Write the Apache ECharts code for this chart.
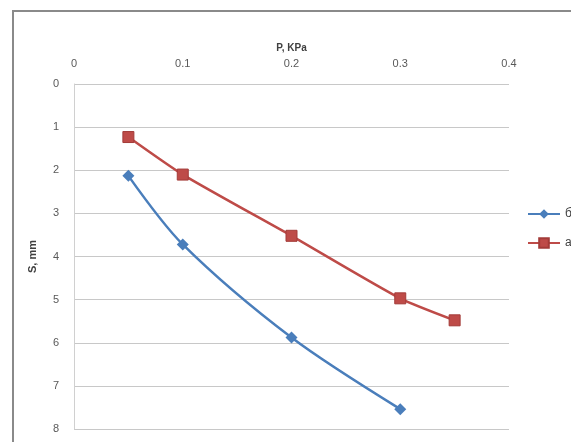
<!DOCTYPE html>
<html><head><meta charset="utf-8">
<script src="https://cdn.jsdelivr.net/npm/echarts@6/dist/echarts.min.js"></script>
<style>html,body{margin:0;padding:0;background:#fff}#c{width:571px;height:442px}</style>
</head><body><div id="c"></div>
<script>
const xTicks = [0, 0.1, 0.2, 0.3, 0.4];
const yTicks = [0, 1, 2, 3, 4, 5, 6, 7, 8];
const seriesBName = 'б';
const seriesBP = [0.05, 0.1, 0.2, 0.3];
const seriesBS = [2.13, 3.72, 5.88, 7.54];
const seriesAName = 'a';
const seriesAP = [0.05, 0.1, 0.2, 0.3, 0.35];
const seriesAS = [1.23, 2.1, 3.52, 4.97, 5.48];

const chart = echarts.init(document.getElementById('c'));
const font = 'Liberation Sans';
chart.setOption({
  animation: false,
  backgroundColor: '#fff',
  graphic: [{
    type: 'rect', shape: {x: 13, y: 11, width: 570, height: 440},
    style: {fill: 'none', stroke: '#8a8a8a', lineWidth: 2}, z: -1
  }],
  grid: {left: 74, right: 62, top: 84, bottom: 13},
  legend: {
    orient: 'vertical', left: 522, top: 203, itemGap: 17,
    itemWidth: 32, itemHeight: 12,
    textStyle: {fontFamily: font, fontSize: 12, color: '#404040'},
    data: [seriesBName, seriesAName]
  },
  xAxis: {
    type: 'value', position: 'top', min: xTicks[0], max: xTicks[xTicks.length - 1], interval: 0.1,
    name: 'P, KPa', nameLocation: 'middle', nameGap: 26,
    nameTextStyle: {fontFamily: font, fontSize: 10, fontWeight: 'bold', color: '#404040'},
    axisLine: {show: false}, axisTick: {show: false},
    axisLabel: {fontFamily: font, fontSize: 11, color: '#595959', margin: 15},
    splitLine: {show: false}
  },
  yAxis: {
    type: 'value', inverse: true, min: yTicks[0], max: yTicks[yTicks.length - 1], interval: 1,
    name: 'S, mm', nameLocation: 'middle', nameGap: 36, nameRotate: 90,
    nameTextStyle: {fontFamily: font, fontSize: 11, fontWeight: 'bold', color: '#404040'},
    axisLine: {show: true, lineStyle: {color: '#d0d0d0', width: 1}}, axisTick: {show: false},
    axisLabel: {fontFamily: font, fontSize: 11, color: '#595959', margin: 15},
    splitLine: {show: true, lineStyle: {color: '#c8c8c8', width: 1}}
  },
  series: [
    {
      name: seriesBName, type: 'line', smooth: 0.3,
      data: seriesBP.map((p, i) => [p, seriesBS[i]]),
      symbol: 'diamond', symbolSize: 12,
      lineStyle: {color: '#4a7ebb', width: 2.5},
      itemStyle: {color: '#4a7ebb'}
    },
    {
      name: seriesAName, type: 'line', smooth: 0.2,
      data: seriesAP.map((p, i) => [p, seriesAS[i]]),
      symbol: 'rect', symbolSize: 11,
      lineStyle: {color: '#be4b48', width: 2.5},
      itemStyle: {color: '#be4b48', borderColor: '#a33b38', borderWidth: 1}
    }
  ]
});
</script></body></html>
